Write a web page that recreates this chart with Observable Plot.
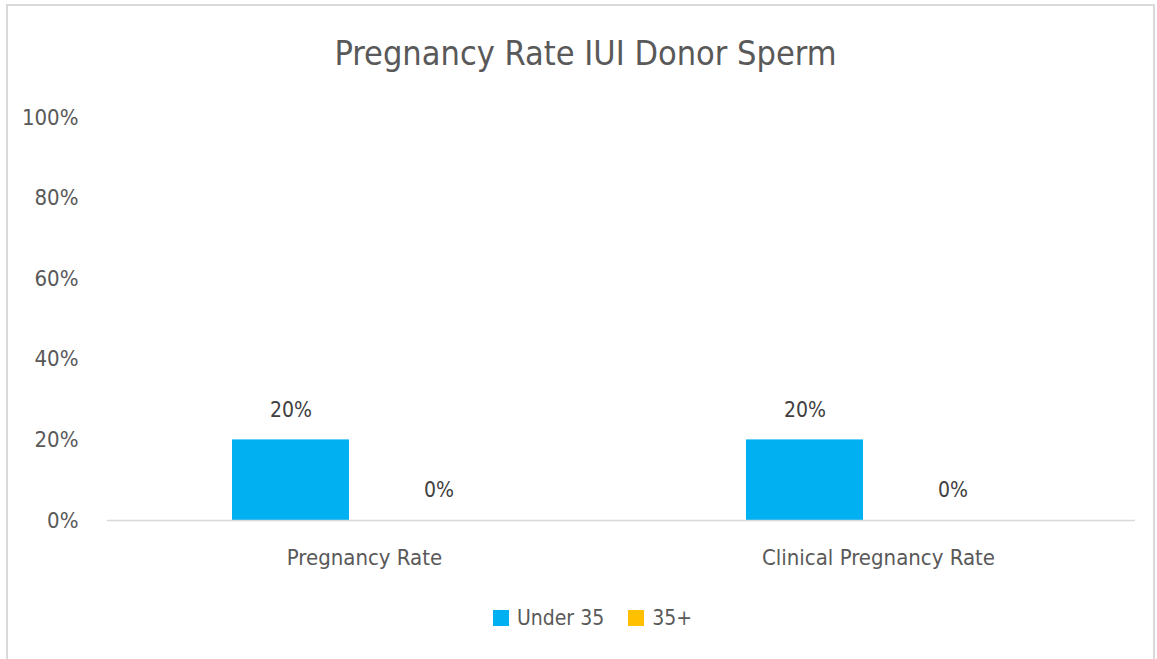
<!DOCTYPE html>
<html>
<head>
<meta charset="utf-8">
<script src="https://cdn.jsdelivr.net/npm/d3@7"></script>
<script src="https://cdn.jsdelivr.net/npm/@observablehq/plot@0.6"></script>
<style>
  html, body { margin: 0; padding: 0; background: #fff; }
  body { width: 1157px; height: 659px; position: relative; overflow: hidden;
         font-family: "Liberation Sans Narrow", "DejaVu Sans Condensed", "Noto Sans", sans-serif; color: #595959; }
  #frame { position: absolute; left: 6px; top: 4px; width: 1149px; height: 700px;
           border: 2px solid #d9d9d9; box-sizing: border-box; }
  #title { position: absolute; left: 7px; width: 1157px; top: 31px; text-align: center;
           font-size: 34px; line-height: 44px; color: #595959; }
  #plot { position: absolute; left: 0; top: 95px; }
  #legend { position: absolute; left: 14px; width: 1157px; top: 604px; display: flex; justify-content: center;
            align-items: center; font-size: 21px; line-height: 28px; }
  .item { display: flex; align-items: center; margin: 0 12px; }
  .sw { width: 16px; height: 16px; margin-right: 8px; }
</style>
</head>
<body>
<div id="frame"></div>
<div id="title">Pregnancy Rate IUI Donor Sperm</div>
<div id="plot"></div>
<div id="legend"></div>
<script>
const categories = ["Pregnancy Rate", "Clinical Pregnancy Rate"];
const seriesNames = ["Under 35", "35+"];
const under35 = [20, 20];
const over35 = [0, 0];
const seriesColors = ["#00B0F0", "#FFC000"];
const yTicks = [0, 20, 40, 60, 80, 100];

const data = [];
categories.forEach((c, i) => {
  data.push({category: c, series: seriesNames[0], value: under35[i]});
  data.push({category: c, series: seriesNames[1], value: over35[i]});
});

const font = '"Liberation Sans Narrow", "DejaVu Sans Condensed", "Noto Sans", sans-serif';

const chart = Plot.plot({
  width: 1157,
  height: 490,
  marginLeft: 107,
  marginRight: 22,
  marginTop: 22,
  marginBottom: 65,
  style: {fontFamily: font, fontSize: "22px", color: "#595959", background: "transparent", overflow: "visible"},
  fx: {domain: categories, padding: 0, label: null, axis: "bottom", tickSize: 0, tickPadding: 29},
  x: {domain: seriesNames, paddingInner: 0.21, paddingOuter: 0.84, axis: null},
  y: {domain: [0, 100], ticks: yTicks, tickFormat: d => d + "%", tickSize: 0, tickPadding: 29, label: null},
  color: {domain: seriesNames, range: seriesColors},
  marks: [
    Plot.barY(data, {fx: "category", x: "series", y: "value", fill: "series"}),
    Plot.ruleY([0], {stroke: "#d9d9d9", strokeWidth: 1.5}),
    Plot.text(data, {fx: "category", x: "series", y: "value", text: d => d.value + "%", dy: -30, fill: "#404040", fontSize: 21})
  ]
});
document.getElementById("plot").appendChild(chart);

const legend = document.getElementById("legend");
seriesNames.forEach((s, i) => {
  const item = document.createElement("div");
  item.className = "item";
  const sw = document.createElement("div");
  sw.className = "sw";
  sw.style.background = seriesColors[i];
  const label = document.createElement("span");
  label.textContent = s;
  item.appendChild(sw);
  item.appendChild(label);
  legend.appendChild(item);
});
</script>
</body>
</html>
